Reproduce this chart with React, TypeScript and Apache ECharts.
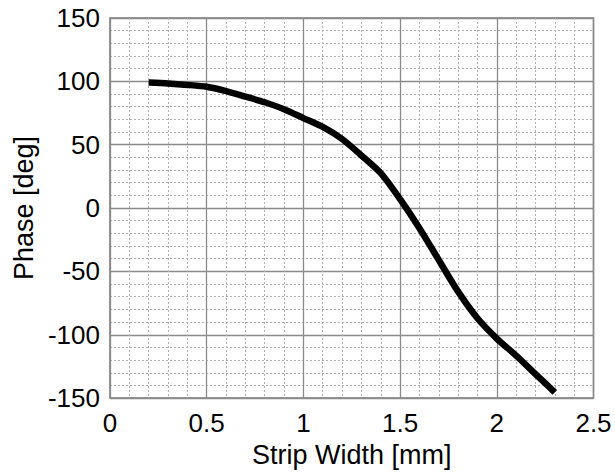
import React, { useEffect, useRef } from "react";
import * as echarts from "echarts";

const stripWidth = [0.2, 0.3, 0.4, 0.5, 0.6, 0.7, 0.8, 0.9, 1.0, 1.1, 1.2, 1.3, 1.4, 1.5, 1.6, 1.7, 1.8, 1.9, 2.0, 2.1, 2.2, 2.3];
const phase = [99, 98.3, 97.2, 95.7, 92.3, 88, 83.5, 78, 71, 64, 54.5, 41.5, 27.5, 7, -16, -41, -66, -87, -103, -116.5, -131, -145.5];

const xTitle = "Strip Width [mm]";
const yTitle = "Phase [deg]";

export default function App() {
  const ref = useRef<HTMLDivElement>(null);
  useEffect(() => {
    if (!ref.current) return;
    const chart = echarts.init(ref.current, undefined, { renderer: "svg" });
    const font = "'Liberation Sans', Arial, Helvetica, sans-serif";
    const major = { show: true, lineStyle: { color: "#8a8a8a", width: 1.3, type: "solid" as const } };
    const minor = { show: true, lineStyle: { color: "#b0b0b0", width: 1, type: [2, 2] as any } };
    chart.setOption({
      animation: false,
      backgroundColor: "#ffffff",
      grid: {
        left: 110,
        top: 18,
        right: 21.5,
        bottom: 74,
        show: true,
        borderColor: "#777777",
        borderWidth: 1.5,
        backgroundColor: "transparent",
      },
      xAxis: {
        type: "value",
        min: 0,
        max: 2.5,
        interval: 0.5,
        name: xTitle,
        nameLocation: "middle",
        nameGap: 35,
        nameTextStyle: { color: "#000", fontSize: 27, fontFamily: font },
        axisLine: { show: false },
        axisTick: { show: false },
        axisLabel: { color: "#000", fontSize: 26, fontFamily: font, margin: 12 },
        splitLine: major,
        minorTick: { show: false, splitNumber: 5 },
        minorSplitLine: minor,
      },
      yAxis: {
        type: "value",
        min: -150,
        max: 150,
        interval: 50,
        name: yTitle,
        nameLocation: "middle",
        nameRotate: 90,
        nameGap: 72,
        nameTextStyle: { color: "#000", fontSize: 27, fontFamily: font },
        axisLine: { show: false },
        axisTick: { show: false },
        axisLabel: { color: "#000", fontSize: 26, fontFamily: font, margin: 10, padding: [16, 0, 0, 0] },
        splitLine: major,
        minorTick: { show: false, splitNumber: 5 },
        minorSplitLine: minor,
      },
      series: [
        {
          type: "line",
          data: stripWidth.map((x, i) => [x, phase[i]]),
          showSymbol: false,
          smooth: 0.25,
          lineStyle: { color: "#000", width: 6.5, cap: "butt", join: "round" },
          z: 5,
        },
      ],
    });
    return () => chart.dispose();
  }, []);
  return (
    <div
      ref={ref}
      style={{ position: "fixed", left: 0, top: 0, width: 615, height: 473, background: "#fff" }}
    />
  );
}
